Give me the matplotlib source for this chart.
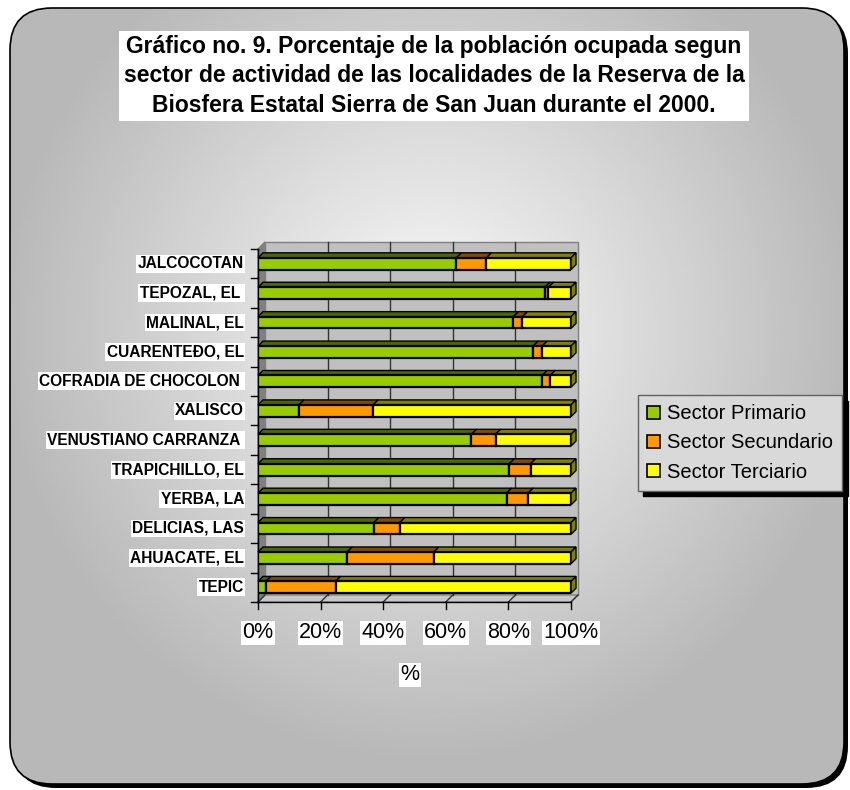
import numpy as np
import matplotlib
matplotlib.use('Agg')
import matplotlib.pyplot as plt
from matplotlib.patches import FancyBboxPatch, Polygon, Rectangle, Patch

plt.rcParams['font.family'] = ['Liberation Sans', 'DejaVu Sans']

# --- data (top to bottom as shown) ---
localidades = ['JALCOCOTAN', 'TEPOZAL, EL ', 'MALINAL, EL', 'CUARENTEÐO, EL',
               'COFRADIA DE CHOCOLON ', 'XALISCO', 'VENUSTIANO CARRANZA ',
               'TRAPICHILLO, EL', 'YERBA, LA', 'DELICIAS, LAS', 'AHUACATE, EL', 'TEPIC']
primario = [63.4, 91.7, 81.6, 87.9, 90.8, 13.1, 68.2, 80.3, 79.4, 37.0, 28.5, 2.5]
secundario = [9.6, 1.1, 2.9, 2.9, 2.5, 23.7, 7.7, 6.8, 6.9, 8.3, 27.7, 22.3]
terciario = [27.0, 7.2, 15.5, 9.2, 6.7, 63.2, 24.1, 12.9, 13.7, 54.7, 43.8, 75.2]
series = ['Sector Primario', 'Sector Secundario', 'Sector Terciario']
x_ticks = [0, 20, 40, 60, 80, 100]

colores = ['#99cc00', '#ff9900', '#ffff00']
techos = ['#4d6600', '#804c00', '#808000']

W, H = 850, 790
fig = plt.figure(figsize=(W / 100, H / 100), dpi=100)
fig.patch.set_facecolor('white')

# background frame with radial gradient
bg = fig.add_axes([0, 0, 1, 1])
bg.set_xlim(0, W)
bg.set_ylim(H, 0)
bg.axis('off')
sombra = FancyBboxPatch((14, 12), 834, 776, boxstyle='round,pad=0,rounding_size=42',
                        facecolor='black', edgecolor='none', zorder=0)
bg.add_patch(sombra)
marco = FancyBboxPatch((10, 8), 834, 776, boxstyle='round,pad=0,rounding_size=42',
                       facecolor='none', edgecolor='black', lw=1.2, zorder=2)
bg.add_patch(marco)
gx, gy = np.meshgrid(np.linspace(0, W, 300), np.linspace(0, H, 300))
r = np.sqrt(((gx - 430) / 450) ** 2 + ((gy - 330) / 450) ** 2)
val = np.clip(0.98 - 0.27 * r, 0.72, 1)
img = bg.imshow(val, cmap='gray', vmin=0, vmax=1, extent=[0, W, H, 0], zorder=1,
                interpolation='bilinear')
img.set_clip_path(marco)

# title
bg.text(434, 76, 'Gráfico no. 9. Porcentaje de la población ocupada segun\n'
        'sector de actividad de las localidades de la Reserva de la\n'
        'Biosfera Estatal Sierra de San Juan durante el 2000.',
        ha='center', va='center', fontsize=16.5, fontweight='bold', linespacing=1.35,
        bbox=dict(facecolor='white', edgecolor='none', pad=3), zorder=5)

# main axes (front plane)
ax = fig.add_axes([258 / W, 1 - 602 / H, 313 / W, 353 / H])
ax.set_xlim(0, 100)
ax.set_ylim(-0.5, 11.5)
ax.axis('off')

n = len(localidades)
y = np.arange(n)[::-1]
wdx, wdy = 7 / 3.13, 7 / 29.4
bdx, bdy = 5 / 3.13, 5 / 29.4
h = 0.4

# walls and floor
ax.add_patch(Rectangle((wdx, -0.5 + wdy), 100, n, facecolor='#c0c0c0',
                       edgecolor='#808080', lw=1, clip_on=False, zorder=0))
ax.add_patch(Polygon([(0, -0.5), (wdx, -0.5 + wdy), (wdx, n - 0.5 + wdy), (0, n - 0.5)],
                     facecolor='#808080', edgecolor='#808080', clip_on=False, zorder=0))
ax.add_patch(Polygon([(0, -0.5), (100, -0.5), (100 + wdx, -0.5 + wdy), (wdx, -0.5 + wdy)],
                     facecolor='#c8c8c8', edgecolor='#808080', clip_on=False, zorder=0))
for xt in x_ticks[1:-1]:
    ax.plot([xt + wdx, xt + wdx], [-0.5 + wdy, n - 0.5 + wdy], color='#333333', lw=1,
            clip_on=False, zorder=1)
for xt in x_ticks:
    ax.plot([xt, xt + wdx], [-0.5, -0.5 + wdy], color='#333333', lw=1, clip_on=False, zorder=1)
    ax.plot([xt, xt], [-0.5, -0.5 - 0.24], color='black', lw=1, clip_on=False, zorder=1)
ax.plot([0, 100], [-0.5, -0.5], color='black', lw=1, clip_on=False, zorder=1)
ax.plot([0, 0], [-0.5, n - 0.5], color='black', lw=1, clip_on=False, zorder=1)
for k in range(n + 1):
    ax.plot([0, -2.2], [k - 0.5, k - 0.5], color='black', lw=1, clip_on=False, zorder=1)

# stacked bars
izq = np.zeros(n)
datos = [primario, secundario, terciario]
for vals, c, t in zip(datos, colores, techos):
    vals = np.array(vals)
    ax.barh(y, vals, left=izq, height=h, color=c, edgecolor='black', lw=1.6, zorder=4)
    for yi, l, w in zip(y, izq, vals):
        ax.add_patch(Polygon([(l, yi + h / 2), (l + w, yi + h / 2),
                              (l + w + bdx, yi + h / 2 + bdy), (l + bdx, yi + h / 2 + bdy)],
                             facecolor=t, edgecolor='black', lw=1, clip_on=False, zorder=3))
    izq = izq + vals
for yi, tot in zip(y, izq):
    ax.add_patch(Polygon([(tot, yi - h / 2), (tot + bdx, yi - h / 2 + bdy),
                          (tot + bdx, yi + h / 2 + bdy), (tot, yi + h / 2)],
                         facecolor=techos[2], edgecolor='black', lw=1, clip_on=False, zorder=3))

# labels
for yi, lab in zip(y, localidades):
    ax.text(-4.5, yi, lab, ha='right', va='center', fontsize=11.2, fontweight='bold',
            bbox=dict(facecolor='white', edgecolor='none', pad=1), clip_on=False)
for xt in x_ticks:
    ax.text(xt, -1.55, f'{xt}%', ha='center', va='center', fontsize=15.5,
            bbox=dict(facecolor='white', edgecolor='none', pad=1), clip_on=False)
bg.text(410, 675, '%', ha='center', va='center', fontsize=15.5,
        bbox=dict(facecolor='white', edgecolor='none', pad=1), zorder=5)

handles = [Patch(facecolor=c, edgecolor='black', lw=1.2) for c in colores]
leg = fig.legend(handles, series, loc='center', bbox_to_anchor=(740 / W, 1 - 443 / H),
                 fontsize=14.5, frameon=True, fancybox=False, handlelength=0.65,
                 handleheight=0.65, handletextpad=0.35, borderpad=0.45, labelspacing=0.5,
                 shadow={'ox': 4, 'oy': -4, 'color': 'black', 'alpha': 1})
leg.get_frame().set_facecolor('#d9d9d9')
leg.get_frame().set_edgecolor('#606060')
leg.get_frame().set_alpha(1)

fig.savefig('out.png', dpi=100)
